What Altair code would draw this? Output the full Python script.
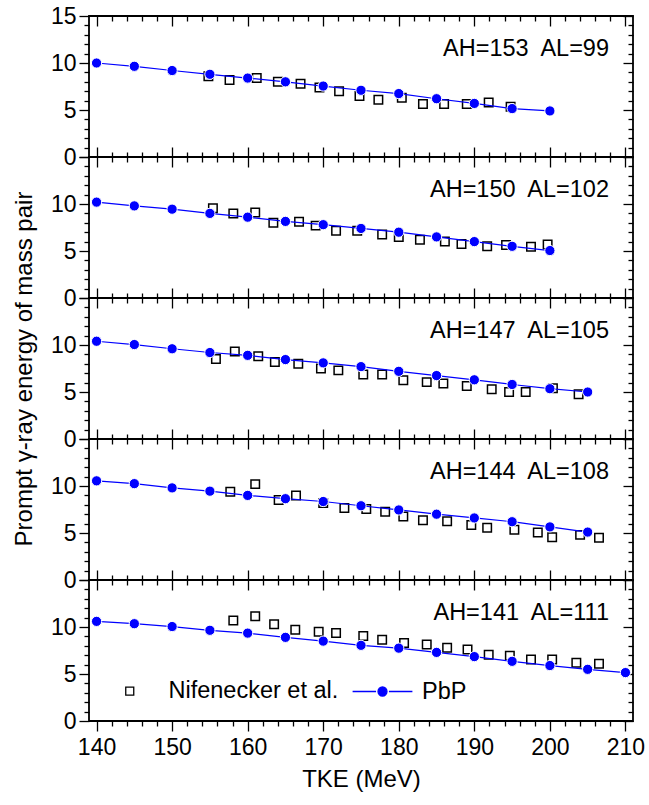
import altair as alt
import pandas as pd

FONT = "Liberation Sans"
BLUE = "#0000ff"

# ---------------- data ----------------
panel_labels = ["AH=153\u00a0 AL=99", "AH=150\u00a0 AL=102", "AH=147\u00a0 AL=105",
                "AH=144\u00a0 AL=108", "AH=141\u00a0 AL=111"]

# PbP
pbp_tke_153 = [140, 145, 150, 155, 160, 165, 170, 175, 180, 185, 190, 195, 200]
pbp_e_153 = [10.0, 9.65, 9.2, 8.8, 8.4, 8.0, 7.55, 7.1, 6.75, 6.2, 5.7, 5.15, 4.9]
pbp_tke_150 = [140, 145, 150, 155, 160, 165, 170, 175, 180, 185, 190, 195, 200]
pbp_e_150 = [10.2, 9.8, 9.45, 9.0, 8.6, 8.15, 7.8, 7.4, 7.0, 6.5, 6.0, 5.5, 5.05]
pbp_tke_147 = [140, 145, 150, 155, 160, 165, 170, 175, 180, 185, 190, 195, 200, 205]
pbp_e_147 = [10.4, 10.05, 9.6, 9.2, 8.9, 8.45, 8.1, 7.7, 7.2, 6.75, 6.3, 5.8, 5.35, 5.0]
pbp_tke_144 = [140, 145, 150, 155, 160, 165, 170, 175, 180, 185, 190, 195, 200, 205]
pbp_e_144 = [10.55, 10.25, 9.8, 9.45, 9.0, 8.65, 8.35, 7.9, 7.45, 7.0, 6.6, 6.2, 5.65, 5.1]
pbp_tke_141 = [140, 145, 150, 155, 160, 165, 170, 175, 180, 185, 190, 195, 200, 205, 210]
pbp_e_141 = [10.6, 10.35, 10.05, 9.65, 9.35, 8.9, 8.5, 8.05, 7.75, 7.3, 6.85, 6.35, 5.9, 5.5, 5.15]

# Nifenecker et al.
nif_tke_153 = [154.8, 157.6, 161.2, 164.0, 167.0, 169.5, 172.1, 174.8, 177.3, 180.4, 183.2, 186.0,
               189.0, 191.9, 194.8]
nif_e_153 = [8.6, 8.2, 8.4, 8.0, 7.8, 7.4, 7.0, 6.5, 6.1, 6.3, 5.65, 5.65, 5.65, 5.8, 5.35]
nif_tke_150 = [155.4, 158.1, 161.0, 163.4, 166.8, 169.0, 171.7, 174.5, 177.8, 180.0, 182.8, 186.1,
               188.3, 191.7, 194.2, 197.5, 199.7]
nif_e_150 = [9.55, 9.0, 9.1, 8.0, 8.1, 7.7, 7.15, 7.15, 6.75, 6.5, 6.2, 6.0, 5.75, 5.5, 5.65, 5.45, 5.7]
nif_tke_147 = [155.8, 158.3, 161.4, 163.6, 166.7, 169.7, 172.0, 175.3, 177.8, 180.6, 183.7, 185.9,
               189.0, 192.3, 194.6, 196.8, 200.4, 203.8]
nif_e_147 = [8.5, 9.3, 8.8, 8.2, 8.0, 7.5, 7.3, 6.85, 6.85, 6.25, 6.05, 5.9, 5.65, 5.3, 5.0, 5.0,
             5.4, 4.75]
nif_tke_144 = [157.7, 161.0, 164.1, 166.4, 170.0, 172.8, 175.7, 178.2, 180.6, 183.2, 186.4, 189.6,
               191.7, 195.3, 198.4, 200.3, 204.0, 206.5]
nif_e_144 = [9.4, 10.2, 8.5, 9.0, 8.2, 7.65, 7.55, 7.25, 6.75, 6.35, 6.25, 5.85, 5.55, 5.35, 5.05,
             4.55, 4.8, 4.5]
nif_tke_141 = [158.1, 161.0, 163.5, 166.3, 169.4, 171.7, 175.3, 177.8, 180.7, 183.7, 186.4, 189.1,
               191.9, 194.7, 197.5, 200.3, 203.5, 206.5]
nif_e_141 = [10.7, 11.15, 10.3, 9.7, 9.5, 9.35, 9.05, 8.65, 8.3, 8.15, 7.8, 7.6, 7.05, 6.95, 6.55,
             6.55, 6.2, 6.1]

pbp_tke = [pbp_tke_153, pbp_tke_150, pbp_tke_147, pbp_tke_144, pbp_tke_141]
pbp_e = [pbp_e_153, pbp_e_150, pbp_e_147, pbp_e_144, pbp_e_141]
nif_tke = [nif_tke_153, nif_tke_150, nif_tke_147, nif_tke_144, nif_tke_141]
nif_e = [nif_e_153, nif_e_150, nif_e_147, nif_e_144, nif_e_141]

series_names = ["Nifenecker et al.", "PbP"]
x_ticks = list(range(140, 211, 2))
y_ticks = list(range(0, 16))
x_domain = [139, 211]
y_domain = [0, 15]

W, H = 544, 141
# legend symbol for PbP: short line segments on both sides of a filled circle
PBP_PATH = ("M-2.6,0L-0.56,0M0.56,0L2.6,0"
            "M0.39,0A0.39,0.39,0,1,1,-0.39,0A0.39,0.39,0,1,1,0.39,0Z")


def panel(i):
    first, last = i == 0, i == 4
    pbp = pd.DataFrame({"tke": pbp_tke[i], "e": pbp_e[i]})
    nif = pd.DataFrame({"tke": nif_tke[i], "e": nif_e[i]})
    xs = alt.Scale(domain=x_domain, nice=False, zero=False)
    ys = alt.Scale(domain=y_domain, nice=False)

    x_bottom = alt.Axis(
        orient="bottom", values=x_ticks,
        tickSize={"expr": "datum.value % 10 === 0 ? 10 : 5"} if last
        else {"expr": "datum.value % 10 === 0 ? -10 : -5"},
        labels=last, labelExpr="datum.value % 10 === 0 ? datum.label : ''",
        labelPadding=5, titlePadding=8, labelFlush=False, labelOverlap=False)
    x_top = alt.Axis(orient="top", values=x_ticks, labels=False,
                     tickSize={"expr": "datum.value % 10 === 0 ? -10 : -5"})
    y_left = alt.Axis(
        orient="left", values=y_ticks,
        tickSize={"expr": "datum.value % 5 === 0 ? 10 : 5"},
        labelExpr=("datum.value % 5 === 0 ? datum.label : ''" if first
                   else "datum.value % 5 === 0 && datum.value < 15 ? datum.label : ''"),
        labelPadding=3, titlePadding=14, labelFlush=False, labelOverlap=False)
    y_right = alt.Axis(orient="right", values=y_ticks, labels=False,
                       tickSize={"expr": "datum.value % 5 === 0 ? -10 : -5"})

    squares = alt.Chart(nif).mark_point(
        shape="square", filled=False, stroke="black", strokeWidth=1.5, size=72, opacity=1
    ).encode(
        x=alt.X("tke:Q", scale=xs, axis=x_bottom, title="TKE (MeV)" if last else None),
        y=alt.Y("e:Q", scale=ys, axis=y_left,
                title="Prompt \u03b3-ray energy of mass pair" if i == 2 else None),
    )
    line = alt.Chart(pbp).mark_line(color=BLUE, strokeWidth=1.2).encode(
        x=alt.X("tke:Q", scale=xs, axis=x_top, title=None),
        y=alt.Y("e:Q", scale=ys, axis=y_right, title=None),
    )
    dots = alt.Chart(pbp).mark_point(
        shape="circle", filled=True, fill=BLUE, stroke="white", strokeWidth=1.0,
        size=105, opacity=1
    ).encode(
        x=alt.X("tke:Q", scale=xs, axis=None),
        y=alt.Y("e:Q", scale=ys, axis=None),
    )
    label = alt.Chart(pd.DataFrame({"label": [panel_labels[i]]})).mark_text(
        align="right", baseline="alphabetic", font=FONT, fontSize=23.5, color="black"
    ).encode(x=alt.value(W - 24), y=alt.value(40), text="label:N")

    layers = [squares, line, dots, label]
    if last:
        leg = alt.Legend(orient="none", legendX=29, legendY=99, direction="horizontal",
                         title=None, labelFont=FONT, labelFontSize=23.5, labelColor="black",
                         labelLimit=400, labelOffset=27, columnPadding=11, padding=0,
                         symbolOpacity=1, symbolStrokeWidth=1.3)
        legend_layer = alt.Chart(pd.DataFrame({"series": series_names})).mark_point(
            opacity=0
        ).encode(
            shape=alt.Shape("series:N", scale=alt.Scale(domain=series_names,
                                                        range=["square", PBP_PATH]), legend=leg),
            fill=alt.Fill("series:N", scale=alt.Scale(domain=series_names,
                                                      range=["transparent", BLUE]), legend=leg),
            stroke=alt.Stroke("series:N", scale=alt.Scale(domain=series_names,
                                                          range=["black", BLUE]), legend=leg),
            size=alt.Size("series:N", scale=alt.Scale(domain=series_names,
                                                      range=[64, 529]), legend=leg),
        )
        layers.append(legend_layer)

    return alt.layer(*layers).resolve_axis(x="independent", y="independent").properties(
        width=W, height=H)


chart = alt.vconcat(*[panel(i) for i in range(5)], spacing=0, bounds="flush").resolve_scale(
    x="independent", y="independent", shape="independent", fill="independent",
    stroke="independent", size="independent"
).resolve_legend(
    shape="independent", fill="independent", stroke="independent", size="independent"
).properties(
    padding={"left": 11, "top": 4, "right": 0, "bottom": 6},
    background="white",
).configure_view(
    stroke="black", strokeWidth=1.8
).configure_axis(
    grid=False, domain=False, tickColor="black", tickWidth=1.3,
    labelFont=FONT, labelFontSize=23, labelColor="black",
    titleFont=FONT, titleFontSize=24, titleFontWeight="normal", titleColor="black",
)

chart.save("out.html", embed_options={"renderer": "svg", "actions": False})
